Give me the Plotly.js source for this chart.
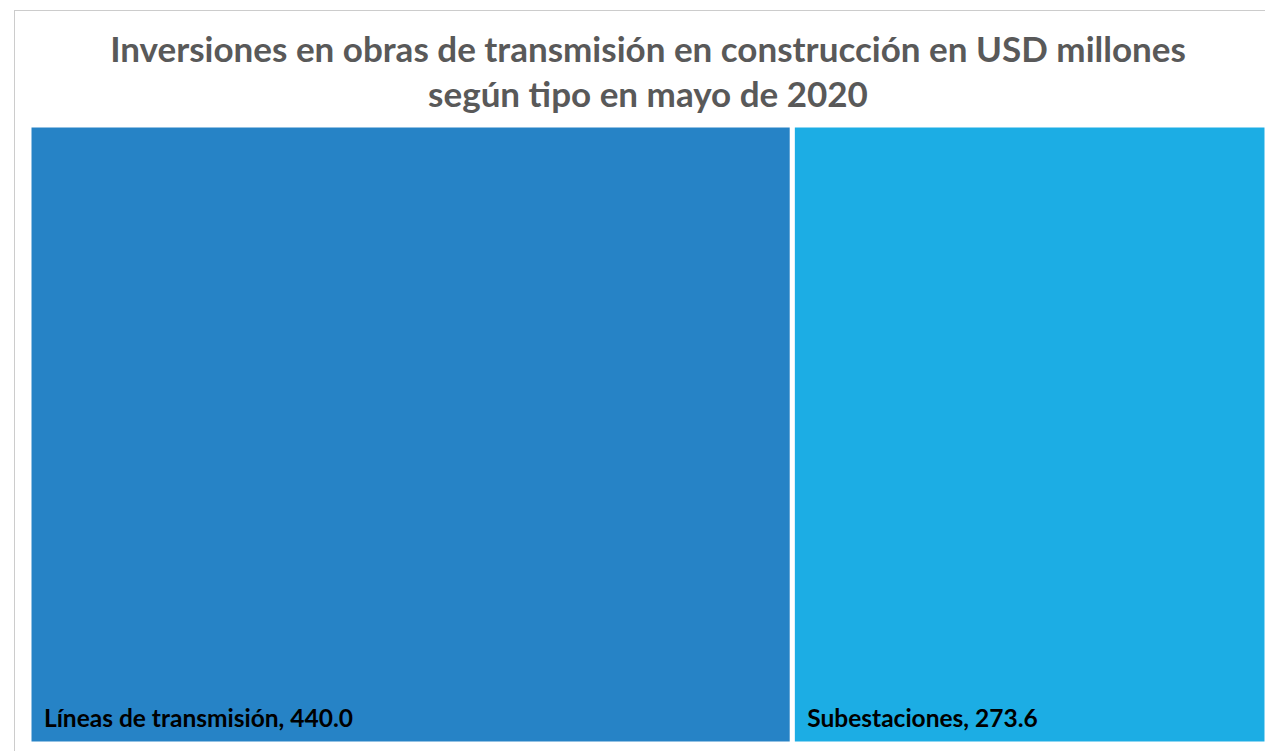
<!DOCTYPE html>
<html>
<head>
<meta charset="utf-8">
<script src="https://cdn.plot.ly/plotly-3.0.1.min.js"></script>
<style>
  html, body { margin: 0; padding: 0; width: 1265px; height: 751px; overflow: hidden; background: #ffffff; }
  #frame { position: absolute; left: 14px; top: 10px; width: 1400px; height: 900px; border: 1px solid #cccccc; box-sizing: border-box; }
  #chart { position: absolute; left: 0; top: 0; width: 1272px; height: 751px; }
</style>
</head>
<body>
<div id="frame"></div>
<div id="chart"></div>
<script>
const categories = ["Líneas de transmisión", "Subestaciones"];
const values = [440.0, 273.6];
const colors = ["#2683C6", "#1CADE4"];
const chartTitle = "Inversiones en obras de transmisión en construcción en USD millones<br>según tipo en mayo de 2020";

const trace = {
  type: "treemap",
  labels: categories,
  parents: categories.map(() => ""),
  values: values,
  sort: false,
  tiling: { packing: "dice", pad: 0 },
  pathbar: { visible: false },
  marker: { colors: colors, line: { color: "#ffffff", width: 5 }, pad: { t: 0, l: 0, r: 0, b: 0 } },
  texttemplate: "<b>&nbsp;&nbsp;%{label}, %{value:.1f}</b><sub><span style='font-size:40px'>&nbsp;</span></sub>",
  textposition: "bottom left",
  textfont: { family: "Lato, 'Open Sans', sans-serif", size: 24.5, color: "#000000" },
  hoverinfo: "none"
};

const layout = {
  width: 1272,
  height: 751,
  margin: { l: 28.5, r: 4.5, t: 124.5, b: 6.5, pad: 0 },
  paper_bgcolor: "rgba(0,0,0,0)",
  plot_bgcolor: "rgba(0,0,0,0)",
  title: {
    text: chartTitle,
    font: { family: "Lato, 'Open Sans', sans-serif", size: 35, color: "#595959", weight: "bold" },
    x: 0.5, xref: "paper", xanchor: "center",
    y: 0.918, yref: "container", yanchor: "top"
  },
  showlegend: false
};

Plotly.newPlot("chart", [trace], layout, { displayModeBar: false, staticPlot: true });
</script>
</body>
</html>
